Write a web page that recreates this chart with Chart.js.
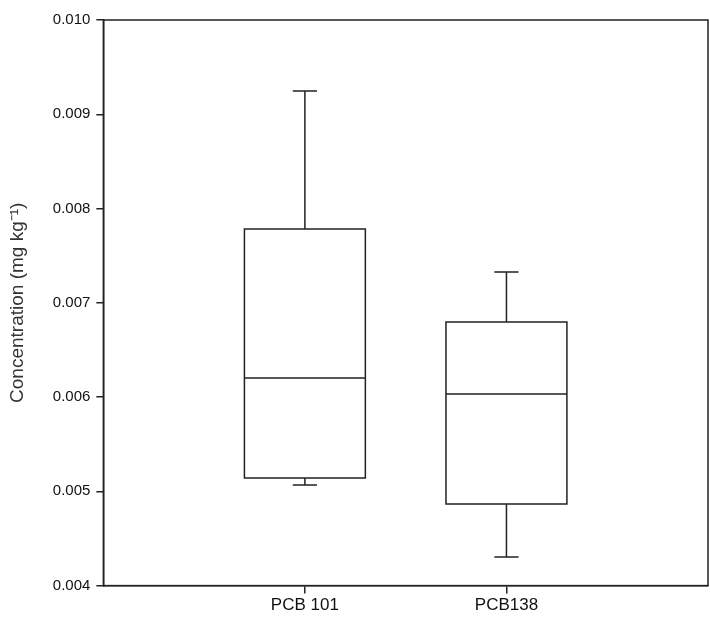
<!DOCTYPE html>
<html><head><meta charset="utf-8">
<script src="https://cdn.jsdelivr.net/npm/chart.js@4"></script>
<style>body{margin:0;background:#fff}#wrap{width:710px;height:622px}</style>
</head><body><div id="wrap"><canvas id="myChart"></canvas></div>
<script>
var categories = ['PCB 101', 'PCB138'];
var whiskerLow = [0.005066, 0.004303];
var q1Values = [0.005143, 0.00487];
var medians = [0.006204, 0.006037];
var q3Values = [0.00778, 0.0068];
var whiskerHigh = [0.009246, 0.007329];
var yTicks = [0.004, 0.005, 0.006, 0.007, 0.008, 0.009, 0.010];

var boxPlugin = {
    id: 'boxes',
    afterDatasetsDraw: function(chart) {
        var ctx = chart.ctx, xs = chart.scales.x, ys = chart.scales.y, a = chart.chartArea;
        ctx.save();
        ctx.strokeStyle = '#222';
        ctx.lineWidth = 1.5;
        ctx.strokeRect(a.left, a.top, a.right - a.left, a.bottom - a.top);
        for (var i = 0; i < categories.length; i++) {
            var c = xs.getPixelForValue(i + 1);
            var hw = xs.getPixelForValue(i + 1.3) - c;
            var cw = xs.getPixelForValue(i + 1.06) - c;
            var y = function(v) { return Math.round(ys.getPixelForValue(v)); };
            ctx.beginPath();
            ctx.rect(c - hw, y(q3Values[i]), 2 * hw, y(q1Values[i]) - y(q3Values[i]));
            ctx.moveTo(c - hw, y(medians[i])); ctx.lineTo(c + hw, y(medians[i]));
            ctx.moveTo(c, y(q3Values[i])); ctx.lineTo(c, y(whiskerHigh[i]));
            ctx.moveTo(c - cw, y(whiskerHigh[i])); ctx.lineTo(c + cw, y(whiskerHigh[i]));
            ctx.moveTo(c, y(q1Values[i])); ctx.lineTo(c, y(whiskerLow[i]));
            ctx.moveTo(c - cw, y(whiskerLow[i])); ctx.lineTo(c + cw, y(whiskerLow[i]));
            ctx.stroke();
        }
        ctx.restore();
    }
};

var ctx = document.getElementById('myChart').getContext('2d');
var myChart = new Chart(ctx, {
    type: 'scatter',
    data: { datasets: [{ data: [], pointRadius: 0 }] },
    options: {
        responsive: true,
        maintainAspectRatio: false,
        animation: false,
        layout: { padding: { top: 20, right: 2, left: 6, bottom: 4 } },
        plugins: { legend: { display: false }, tooltip: { enabled: false } },
        scales: {
            x: {
                type: 'linear', min: 0, max: 3,
                afterBuildTicks: function(s) { s.ticks = categories.map(function(c, i) { return { value: i + 1 }; }); },
                ticks: {
                    color: '#111', font: { family: 'Liberation Sans', size: 17 }, padding: 2,
                    callback: function(v) { return categories[v - 1]; }, maxRotation: 0
                },
                grid: { drawOnChartArea: false, tickLength: 8, color: '#222', lineWidth: 1.5 },
                border: { color: '#222', width: 1.5 }
            },
            y: {
                min: 0.004, max: 0.010,
                afterBuildTicks: function(s) { s.ticks = yTicks.map(function(v) { return { value: v }; }); },
                ticks: {
                    color: '#111', font: { family: 'Liberation Sans', size: 15 }, padding: 6,
                    callback: function(v) { return v.toFixed(3); }
                },
                grid: { drawOnChartArea: false, tickLength: 7, color: '#222', lineWidth: 1.5 },
                border: { color: '#222', width: 1.5 },
                title: { display: true, text: 'Concentration (mg kg⁻¹)', color: '#333', padding: { top: 0, bottom: 18 },
                         font: { family: 'Liberation Sans', size: 19 } }
            }
        }
    },
    plugins: [boxPlugin]
});
</script></body></html>
